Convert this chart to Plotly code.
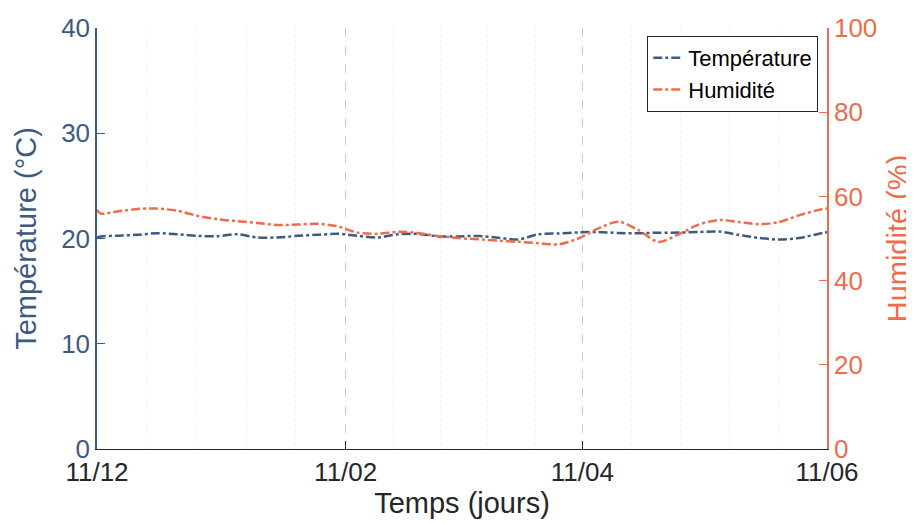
"""
Température et humidité sur six mois (double axe Y).
"""

import pandas as pd
import plotly.graph_objects as go

# Données
jours = [0, 1, 5, 10, 15, 20, 25, 30, 35, 40, 45, 50, 55, 60, 65, 70, 75, 80,
         85, 90, 95, 100, 105, 110, 115, 120, 125, 130, 135, 140, 145, 150,
         155, 160, 165, 170, 175, 180, 182]
temperature = [20.1, 20.2, 20.27, 20.35, 20.5, 20.4, 20.25, 20.22, 20.4, 20.1,
               20.1, 20.25, 20.35, 20.45, 20.25, 20.1, 20.4, 20.45, 20.2, 20.2,
               20.24, 20.08, 19.9, 20.4, 20.48, 20.58, 20.62, 20.52, 20.5,
               20.55, 20.56, 20.62, 20.66, 20.35, 20.05, 19.9, 20.05, 20.45, 20.6]
humidite = [56.8, 55.9, 56.4, 57.0, 57.1, 56.6, 55.4, 54.6, 54.1, 53.7, 53.2,
            53.3, 53.5, 52.9, 51.4, 51.1, 51.6, 51.3, 50.6, 50.1, 49.8, 49.5,
            49.2, 48.9, 48.6, 50.0, 52.4, 54.0, 52.0, 49.2, 51.0, 53.3, 54.4,
            53.9, 53.4, 53.9, 55.5, 56.8, 57.1]
dates_majeures = ['2022-12-11', '2023-02-11', '2023-04-11', '2023-06-11']

debut = pd.Timestamp(dates_majeures[0])
dates = [debut + pd.Timedelta(days=j) for j in jours]

# Graduations mineures : 5 intervalles entre chaque graduation majeure
majeures = pd.to_datetime(dates_majeures)
mineures = []
for a, b in zip(majeures[:-1], majeures[1:]):
    for k in range(1, 5):
        mineures.append(a + (b - a) * k / 5)

COULEUR_T = '#3D5A80'
COULEUR_H = '#EE6C4D'
POLICE = 'Liberation Sans, Arial, sans-serif'

fig = go.Figure()

fig.add_trace(go.Scatter(
    x=dates, y=temperature, name='Température',
    mode='lines', line=dict(color=COULEUR_T, width=2.5, dash='dashdot',
                            shape='spline', smoothing=0.8),
    yaxis='y'
))
fig.add_trace(go.Scatter(
    x=dates, y=humidite, name='Humidité',
    mode='lines', line=dict(color=COULEUR_H, width=2.5, dash='dashdot',
                            shape='spline', smoothing=0.8),
    yaxis='y2'
))

# la page ajoute une marge de 8 px autour de la figure
fig.update_layout(
    width=914, height=523,
    margin=dict(l=89, r=95, t=20, b=82, autoexpand=False),
    plot_bgcolor='white', paper_bgcolor='white',
    font=dict(family=POLICE, size=26, color='#262626'),
    xaxis=dict(
        type='date', automargin=False,
        range=[majeures[0], majeures[-1]],
        tickmode='array', tickvals=list(majeures), tickformat='%d/%m',
        ticks='inside', ticklen=8, tickcolor='#262626',
        showline=True, linecolor='#262626', linewidth=1.2,
        showgrid=True, gridcolor='#cccccc', griddash='dash', gridwidth=1,
        zeroline=False,
        title=dict(text='Temps (jours)', font=dict(size=29), standoff=2),
        minor=dict(tickmode='array', tickvals=mineures, showgrid=True,
                   gridcolor='#f0f0f0', griddash='dot', gridwidth=1,
                   ticks=''),
    ),
    yaxis=dict(
        range=[0, 40], tickvals=[0, 10, 20, 30, 40], automargin=False,
        ticks='inside', ticklen=8, tickcolor=COULEUR_T,
        showline=True, linecolor=COULEUR_T, linewidth=1.5,
        showgrid=False, zeroline=False,
        tickfont=dict(color=COULEUR_T),
        title=dict(text='Température (°C)', font=dict(size=29, color=COULEUR_T),
                   standoff=16),
    ),
    yaxis2=dict(
        range=[0, 100], tickvals=[0, 20, 40, 60, 80, 100], automargin=False,
        overlaying='y', side='right', anchor='x',
        ticks='inside', ticklen=8, tickcolor=COULEUR_H,
        showline=True, linecolor=COULEUR_H, linewidth=1.5,
        showgrid=False, zeroline=False,
        tickfont=dict(color=COULEUR_H),
        title=dict(text='Humidité (%)', font=dict(size=29, color=COULEUR_H),
                   standoff=11),
    ),
    legend=dict(
        x=0.988, y=0.981, xanchor='right', yanchor='top',
        bgcolor='white', bordercolor='#262626', borderwidth=1,
        font=dict(size=22, color='black'),
        tracegroupgap=0, itemwidth=30,
    ),
    showlegend=True,
)

fig.write_html("out.html")
